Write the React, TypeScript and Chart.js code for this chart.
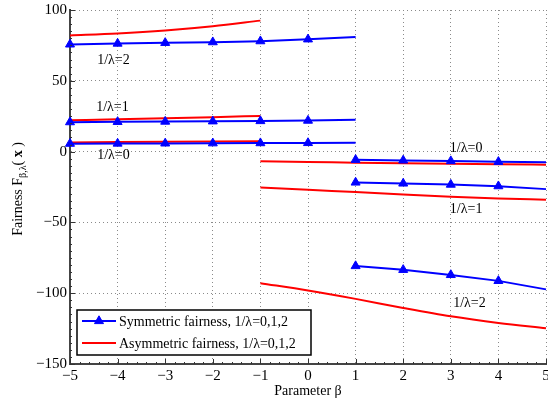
import { useEffect, useRef } from "react";
import { Chart, registerables } from "chart.js";

Chart.register(...registerables);

// Parameter β samples for each branch
const betaSymLeft = [-5, -4, -3, -2, -1, 0, 1];
const betaSymRight = [1, 2, 3, 4, 5];
const betaAsymLeft = [-5, -4, -3, -2, -1];
const betaAsymRight = [-1, 0, 1, 2, 3, 4, 5];

// Symmetric fairness, β < 1 branch
const symLeft0 = [5.6, 5.7, 5.8, 5.9, 6.0, 6.1, 6.2];
const symLeft1 = [20.8, 21.0, 21.2, 21.4, 21.6, 21.9, 22.5];
const symLeft2 = [75.7, 76.3, 76.8, 77.3, 78.0, 79.3, 81.0];

// Symmetric fairness, β > 1 branch
const symRight0 = [-5.8, -6.2, -6.7, -7.2, -7.6];
const symRight1 = [-21.8, -22.5, -23.3, -24.4, -26.5];
const symRight2 = [-80.8, -83.5, -87.1, -91.3, -97.3];

// Asymmetric fairness, β < -1 branch
const asymLeft0 = [6.5, 6.7, 6.9, 7.1, 7.3];
const asymLeft1 = [22.2, 22.8, 23.5, 24.3, 25.2];
const asymLeft2 = [82.0, 83.4, 85.5, 88.5, 92.5];

// Asymmetric fairness, β > -1 branch
const asymRight0 = [-6.9, -7.3, -7.8, -8.2, -8.5, -8.9, -9.2];
const asymRight1 = [-25.3, -27.0, -28.6, -30.3, -31.9, -33.1, -34.0];
const asymRight2 = [-92.9, -98.1, -104.0, -110.4, -116.3, -121.0, -124.8];

// Axis ticks
const betaTicks = [-5, -4, -3, -2, -1, 0, 1, 2, 3, 4, 5];
const fairnessTicks = [-150, -100, -50, 0, 50, 100];

// In-plot annotations: text, β (left edge) and fairness (vertical centre)
const curveLabels = ["1/λ=2", "1/λ=1", "1/λ=0", "1/λ=0", "1/λ=1", "1/λ=2"];
const curveLabelBeta = [-4.43, -4.45, -4.43, 2.98, 2.98, 3.05];
const curveLabelValue = [64.5, 31.2, -2.8, 2.1, -41.0, -107.0];

const legendLabels = [
  "Symmetric fairness, 1/λ=0,1,2",
  "Asymmetric fairness, 1/λ=0,1,2",
];

const BLUE = "#0000ff";
const RED = "#ff0000";
const SERIF = "'Liberation Serif', 'Times New Roman', serif";

const minus = (v: number) => String(v).replace("-", "−");
const pairs = (xs: number[], ys: number[]) => xs.map((x, i) => ({ x, y: ys[i] }));

const symSet = (xs: number[], ys: number[]) => ({
  data: pairs(xs, ys),
  borderColor: BLUE,
  backgroundColor: BLUE,
  borderWidth: 2,
  pointStyle: "triangle" as const,
  pointRadius: xs.map((_, i) => (i === xs.length - 1 ? 0 : 5.2)),
  pointBackgroundColor: BLUE,
  pointBorderColor: BLUE,
  pointBorderWidth: 1,
  tension: 0,
  clip: false as const,
  order: 0,
});

const asymSet = (xs: number[], ys: number[]) => ({
  data: pairs(xs, ys),
  borderColor: RED,
  backgroundColor: RED,
  borderWidth: 2,
  pointRadius: 0,
  tension: 0.3,
  cubicInterpolationMode: "monotone" as const,
  clip: false as const,
  order: 1,
});

function drawTriangle(ctx: CanvasRenderingContext2D, x: number, y: number, r: number) {
  ctx.beginPath();
  let a = 0;
  ctx.moveTo(x + Math.sin(a) * r, y - Math.cos(a) * r);
  a += (2 * Math.PI) / 3;
  ctx.lineTo(x + Math.sin(a) * r, y - Math.cos(a) * r);
  a += (2 * Math.PI) / 3;
  ctx.lineTo(x + Math.sin(a) * r, y - Math.cos(a) * r);
  ctx.closePath();
  ctx.fill();
  ctx.stroke();
}

const decorations = {
  id: "decorations",
  afterDatasetsDraw(chart: any) {
    const { ctx, scales } = chart;
    const xs = scales.x;
    const ys = scales.y;
    ctx.save();
    ctx.fillStyle = "#000";
    ctx.font = `14px ${SERIF}`;
    ctx.textAlign = "left";
    ctx.textBaseline = "middle";
    curveLabels.forEach((t, i) => {
      ctx.fillText(t, xs.getPixelForValue(curveLabelBeta[i]), ys.getPixelForValue(curveLabelValue[i]));
    });
    ctx.restore();
  },
  afterDraw(chart: any) {
    const { ctx, chartArea, scales } = chart;
    const xs = scales.x;
    const ys = scales.y;
    const { left, right, top, bottom } = chartArea;

    // inward major and minor tick marks
    ctx.save();
    ctx.strokeStyle = "#333";
    ctx.lineWidth = 1;
    ctx.beginPath();
    for (let v = -150; v <= 100; v += 5) {
      const y = Math.round(ys.getPixelForValue(v)) + 0.5;
      const len = v % 50 === 0 ? 5 : 2;
      ctx.moveTo(left, y);
      ctx.lineTo(left + len, y);
    }
    for (let k = -50; k <= 50; k += 2) {
      const v = k / 10;
      const x = Math.round(xs.getPixelForValue(v)) + 0.5;
      const len = k % 10 === 0 ? 5 : 2;
      ctx.moveTo(x, bottom);
      ctx.lineTo(x, bottom - len);
    }
    ctx.stroke();
    ctx.restore();

    // x tick labels
    ctx.save();
    ctx.fillStyle = "#000";
    ctx.font = `15px ${SERIF}`;
    ctx.textAlign = "center";
    ctx.textBaseline = "middle";
    betaTicks.forEach((v) => {
      ctx.fillText(minus(v), xs.getPixelForValue(v), bottom + 12);
    });
    ctx.restore();

    // legend box
    const lx = left + 7;
    const lw = 234;
    const lh = 45;
    const ly = bottom - 9 - lh;
    ctx.save();
    ctx.fillStyle = "#fff";
    ctx.fillRect(lx, ly, lw, lh);
    ctx.strokeStyle = "#000";
    ctx.lineWidth = 1.5;
    ctx.strokeRect(lx, ly, lw, lh);
    const rowY = [ly + 11, ly + 33];
    const colors = [BLUE, RED];
    legendLabels.forEach((t, i) => {
      ctx.strokeStyle = colors[i];
      ctx.lineWidth = 2;
      ctx.beginPath();
      ctx.moveTo(lx + 5, rowY[i]);
      ctx.lineTo(lx + 39, rowY[i]);
      ctx.stroke();
      if (i === 0) {
        ctx.fillStyle = BLUE;
        ctx.lineWidth = 1;
        drawTriangle(ctx, lx + 22, rowY[i], 5.2);
      }
      ctx.fillStyle = "#000";
      ctx.font = `14px ${SERIF}`;
      ctx.textAlign = "left";
      ctx.textBaseline = "middle";
      ctx.fillText(t, lx + 42, rowY[i] + 1);
    });
    ctx.restore();

    // x-axis title
    ctx.save();
    ctx.fillStyle = "#000";
    ctx.font = `14px ${SERIF}`;
    ctx.textAlign = "center";
    ctx.textBaseline = "middle";
    ctx.fillText("Parameter β", (left + right) / 2, 391);
    ctx.restore();

    // y-axis title with subscript and bold x
    ctx.save();
    ctx.translate(22, (top + bottom) / 2 + 2);
    ctx.rotate(-Math.PI / 2);
    ctx.fillStyle = "#000";
    ctx.textBaseline = "alphabetic";
    ctx.textAlign = "left";
    const main = `14px ${SERIF}`;
    const sub = `10px ${SERIF}`;
    const bold = `bold 14px ${SERIF}`;
    const parts: [string, string, number][] = [
      ["Fairness F", main, 0],
      ["β,λ", sub, 4],
      ["( ", main, 0],
      ["x", bold, 0],
      [" )", main, 0],
    ];
    let total = 0;
    parts.forEach(([t, f]) => {
      ctx.font = f;
      total += ctx.measureText(t).width;
    });
    let cx = -total / 2;
    parts.forEach(([t, f, dy]) => {
      ctx.font = f;
      ctx.fillText(t, cx, dy);
      cx += ctx.measureText(t).width;
    });
    ctx.restore();
  },
};

export default function App() {
  const canvasRef = useRef<HTMLCanvasElement | null>(null);

  useEffect(() => {
    document.body.style.margin = "0";
    const canvas = canvasRef.current;
    if (!canvas) return;
    Chart.defaults.font.family = SERIF;

    const chart = new Chart(canvas, {
      type: "line",
      data: {
        datasets: [
          symSet(betaSymLeft, symLeft2),
          symSet(betaSymLeft, symLeft1),
          symSet(betaSymLeft, symLeft0),
          symSet(betaSymRight, symRight0),
          symSet(betaSymRight, symRight1),
          symSet(betaSymRight, symRight2),
          asymSet(betaAsymLeft, asymLeft2),
          asymSet(betaAsymLeft, asymLeft1),
          asymSet(betaAsymLeft, asymLeft0),
          asymSet(betaAsymRight, asymRight0),
          asymSet(betaAsymRight, asymRight1),
          asymSet(betaAsymRight, asymRight2),
        ] as any,
      },
      options: {
        responsive: false,
        animation: false,
        events: [],
        layout: { autoPadding: false, padding: { left: 0, right: 2, top: 10, bottom: 0 } },
        plugins: {
          legend: { display: false },
          title: { display: false },
          tooltip: { enabled: false },
        },
        scales: {
          x: {
            type: "linear",
            min: betaTicks[0],
            max: betaTicks[betaTicks.length - 1],
            afterBuildTicks: (scale: any) => {
              scale.ticks = betaTicks.map((value) => ({ value }));
            },
            afterFit: (scale: any) => {
              scale.height = 36;
              scale.paddingLeft = 0;
              scale.paddingRight = 0;
            },
            grid: {
              color: "#8a8a8a",
              lineWidth: 1,
              drawTicks: false,
            },
            border: { display: true, color: "#444", width: 2, dash: [1, 3] },
            ticks: { display: false },
          },
          y: {
            type: "linear",
            min: fairnessTicks[0],
            max: fairnessTicks[fairnessTicks.length - 1],
            afterBuildTicks: (scale: any) => {
              scale.ticks = fairnessTicks.map((value) => ({ value }));
            },
            afterFit: (scale: any) => {
              scale.width = 70;
              scale.paddingTop = 0;
              scale.paddingBottom = 0;
            },
            grid: {
              color: "#8a8a8a",
              lineWidth: 1,
              drawTicks: false,
            },
            border: { display: true, color: "#444", width: 2, dash: [1, 3] },
            ticks: {
              color: "#000",
              padding: 3,
              font: { size: 15, family: SERIF },
              callback: (v: any) => minus(v),
            },
          },
        },
      },
      plugins: [decorations],
    });

    return () => chart.destroy();
  }, []);

  return (
    <div style={{ width: 548, height: 400 }}>
      <canvas ref={canvasRef} width={548} height={400} style={{ display: "block" }} />
    </div>
  );
}
